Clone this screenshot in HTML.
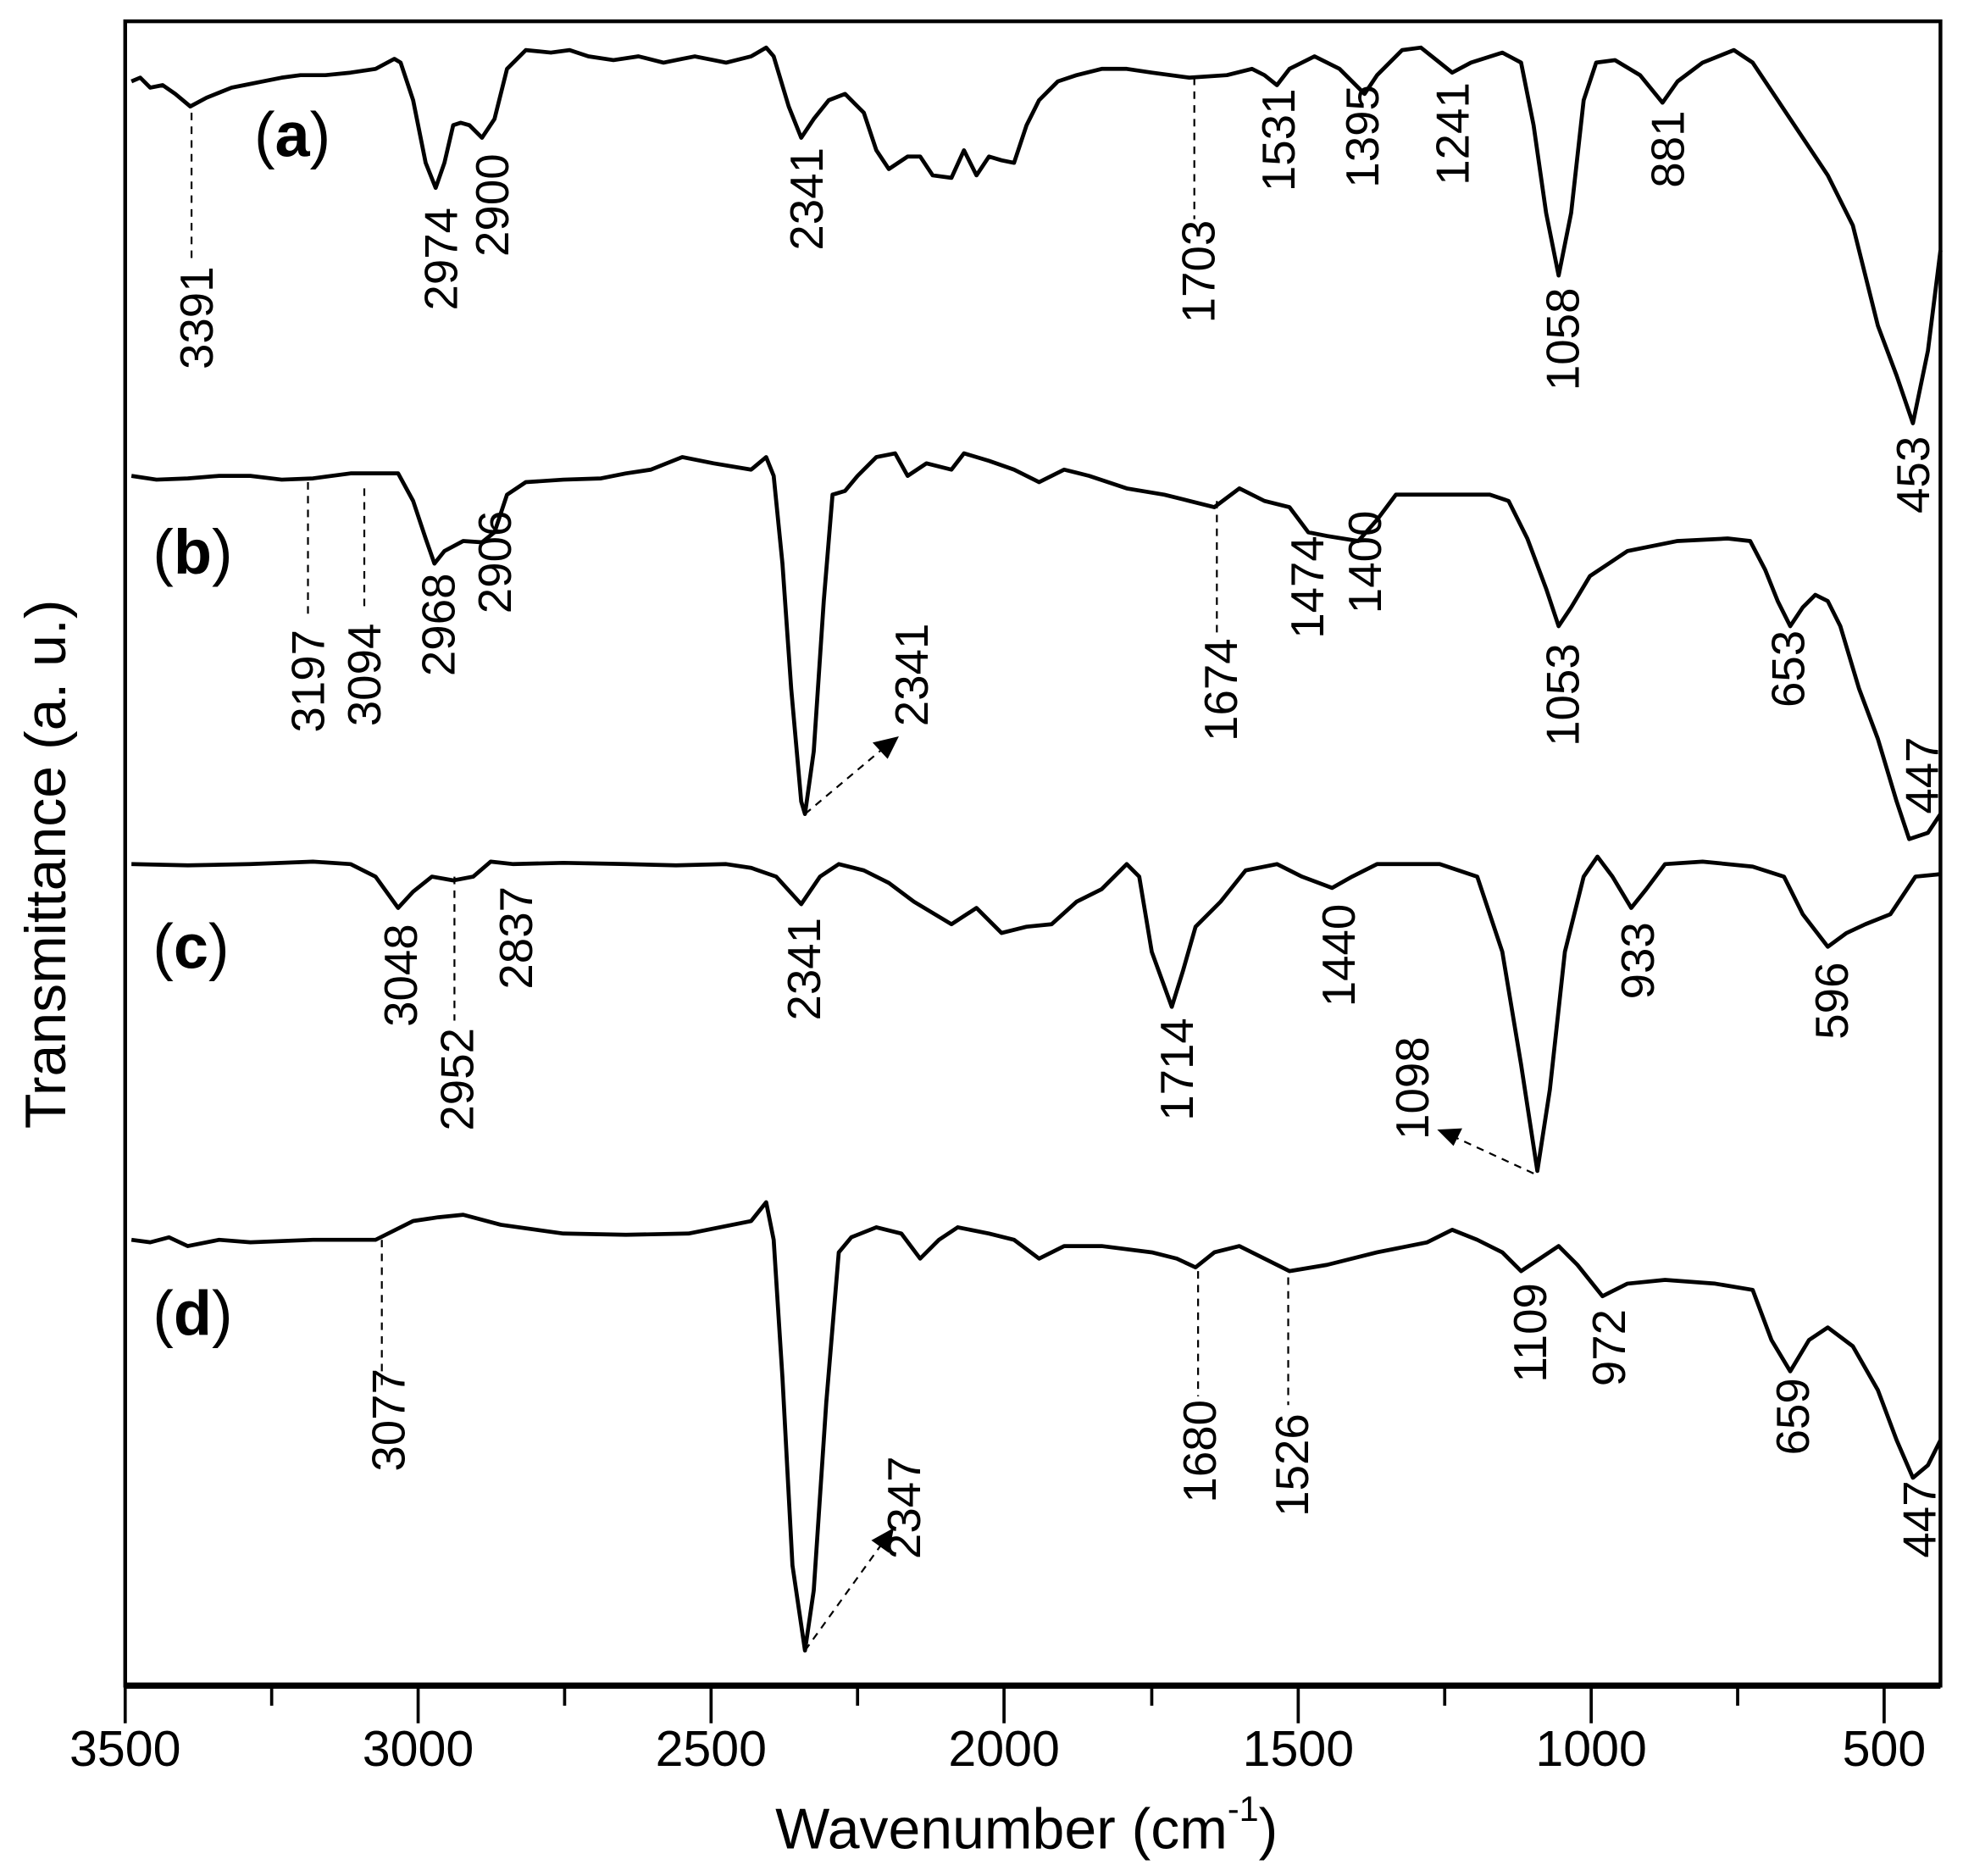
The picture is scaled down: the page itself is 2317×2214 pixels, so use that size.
<!DOCTYPE html>
<html><head><meta charset="utf-8"><style>html,body{margin:0;padding:0;background:#fff}svg{display:block}</style></head>
<body>
<svg width="2317" height="2214" viewBox="0 0 1568 1498" preserveAspectRatio="none" xmlns="http://www.w3.org/2000/svg" font-family="Liberation Sans, sans-serif">
<rect width="1568" height="1498" fill="#fff"/>
<g fill="none" stroke="#000" stroke-width="3.2" stroke-linejoin="round">
<polyline points="105,65 112,62 120,70 130,68 140,75 152,85 165,78 175,74 185,70 195,68 210,65 225,62 240,60 260,60 280,58 300,55 315,47 320,50 330,80 340,130 348,150 355,130 362,100 368,98 375,100 385,110 395,95 405,55 420,40 440,42 455,40 470,45 490,48 510,45 530,50 545,47 555,45 570,48 580,50 600,45 612,38 618,45 630,85 640,110 650,95 662,80 675,75 690,90 700,120 710,135 725,125 735,125 745,140 760,142 770,120 780,140 790,125 800,128 810,130 820,100 830,80 845,65 860,60 880,55 900,55 920,58 950,62 980,60 1000,55 1010,60 1020,68 1030,55 1050,45 1070,55 1090,75 1100,60 1120,40 1135,38 1150,50 1160,58 1175,50 1200,42 1215,50 1225,100 1235,170 1245,220 1255,170 1265,80 1275,50 1290,48 1310,60 1328,82 1340,65 1360,50 1385,40 1400,50 1420,80 1440,110 1460,140 1480,180 1500,260 1515,300 1528,338 1540,280 1550,200"/>
<polyline points="105,380 125,383 150,382 175,380 200,380 225,383 250,382 280,378 300,378 318,378 330,400 340,430 347,450 355,440 370,432 385,433 395,425 405,395 420,385 450,383 480,382 500,378 520,375 545,365 570,370 600,375 612,365 618,380 625,450 632,550 640,640 643,650 650,600 658,480 665,395 675,392 685,380 700,365 715,362 725,380 740,370 760,375 770,362 790,368 810,375 830,385 850,375 870,380 900,390 930,395 950,400 970,405 990,390 1010,400 1030,405 1045,425 1060,428 1085,432 1100,415 1115,395 1150,395 1190,395 1205,400 1220,430 1235,470 1245,500 1255,485 1270,460 1300,440 1340,432 1380,430 1398,432 1410,455 1420,480 1430,500 1440,485 1450,475 1460,480 1470,500 1485,550 1500,590 1515,640 1525,670 1540,665 1550,650"/>
<polyline points="105,690 150,691 200,690 250,688 280,690 300,700 318,725 330,712 345,700 362,703 378,700 392,688 410,690 450,689 500,690 540,691 580,690 600,693 620,700 640,722 655,700 670,690 690,695 710,705 730,720 760,738 780,725 800,745 820,740 840,738 860,720 880,710 900,690 910,700 920,760 936,804 945,775 955,740 975,720 995,695 1020,690 1040,700 1064,709 1080,700 1100,690 1150,690 1180,700 1200,760 1215,850 1228,935 1238,870 1250,760 1265,700 1276,684 1288,700 1303,725 1315,710 1330,690 1360,688 1400,692 1425,700 1440,730 1460,756 1475,745 1490,738 1510,730 1530,700 1550,698"/>
<polyline points="105,990 120,992 135,988 150,995 175,990 200,992 250,990 300,990 330,975 350,972 370,970 400,978 450,985 500,986 550,985 600,975 612,960 618,990 625,1100 633,1250 643,1318 650,1270 660,1120 670,1000 680,988 700,980 720,985 735,1005 750,990 765,980 790,985 810,990 830,1005 850,995 880,995 920,1000 940,1005 955,1012 970,1000 990,995 1010,1005 1030,1015 1060,1010 1100,1000 1140,992 1160,982 1180,990 1200,1000 1215,1015 1230,1005 1245,995 1260,1010 1280,1035 1300,1025 1330,1022 1370,1025 1400,1030 1415,1070 1430,1095 1445,1070 1460,1060 1480,1075 1500,1110 1515,1150 1528,1180 1540,1170 1550,1150"/>
</g>
<g stroke="#000" stroke-width="1.5" stroke-dasharray="6,5" fill="none">
<line x1="153" y1="90" x2="153" y2="210"/><line x1="954" y1="62" x2="954" y2="175"/>
<line x1="246" y1="385" x2="246" y2="490"/><line x1="291" y1="390" x2="291" y2="485"/><line x1="972" y1="400" x2="972" y2="505"/>
<line x1="363" y1="700" x2="363" y2="815"/>
<line x1="305" y1="990" x2="305" y2="1110"/><line x1="957" y1="1015" x2="957" y2="1115"/><line x1="1029" y1="1020" x2="1029" y2="1122"/>
<line x1="643" y1="650" x2="705" y2="598"/><line x1="643" y1="1318" x2="705" y2="1232"/><line x1="1225" y1="937" x2="1162" y2="908"/>
</g>
<g fill="#000">
<polygon points="718,588 697,593 709,606"/><polygon points="714,1220 696,1230 710,1240"/><polygon points="1148,902 1168,901 1161,915"/>
</g>
<g font-size="37" fill="#000">
<text transform="translate(170,295) rotate(-90)">3391</text>
<text transform="translate(365,248) rotate(-90)">2974</text>
<text transform="translate(406,205) rotate(-90)">2900</text>
<text transform="translate(657,200) rotate(-90)">2341</text>
<text transform="translate(970,258) rotate(-90)">1703</text>
<text transform="translate(1034,153) rotate(-90)">1531</text>
<text transform="translate(1101,150) rotate(-90)">1395</text>
<text transform="translate(1173,148) rotate(-90)">1241</text>
<text transform="translate(1261,312) rotate(-90)">1058</text>
<text transform="translate(1345,150) rotate(-90)">881</text>
<text transform="translate(1541,410) rotate(-90)">453</text>
<text transform="translate(259,585) rotate(-90)">3197</text>
<text transform="translate(304,580) rotate(-90)">3094</text>
<text transform="translate(363,540) rotate(-90)">2968</text>
<text transform="translate(408,490) rotate(-90)">2906</text>
<text transform="translate(741,580) rotate(-90)">2341</text>
<text transform="translate(988,592) rotate(-90)">1674</text>
<text transform="translate(1057,510) rotate(-90)">1474</text>
<text transform="translate(1103,490) rotate(-90)">1400</text>
<text transform="translate(1261,596) rotate(-90)">1053</text>
<text transform="translate(1441,565) rotate(-90)">653</text>
<text transform="translate(1548,650) rotate(-90)">447</text>
<text transform="translate(333,820) rotate(-90)">3048</text>
<text transform="translate(378,903) rotate(-90)">2952</text>
<text transform="translate(425,790) rotate(-90)">2837</text>
<text transform="translate(655,815) rotate(-90)">2341</text>
<text transform="translate(953,895) rotate(-90)">1714</text>
<text transform="translate(1082,804) rotate(-90)">1440</text>
<text transform="translate(1141,910) rotate(-90)">1098</text>
<text transform="translate(1321,798) rotate(-90)">933</text>
<text transform="translate(1476,830) rotate(-90)">596</text>
<text transform="translate(323,1175) rotate(-90)">3077</text>
<text transform="translate(735,1245) rotate(-90)">2347</text>
<text transform="translate(971,1200) rotate(-90)">1680</text>
<text transform="translate(1045,1211) rotate(-90)">1526</text>
<text transform="translate(1235,1104) rotate(-90)">1109</text>
<text transform="translate(1298,1107) rotate(-90)">972</text>
<text transform="translate(1445,1162) rotate(-90)">659</text>
<text transform="translate(1546,1244) rotate(-90)">447</text>
</g>
<g font-size="50" fill="#000">
<text x="203" y="125">(<tspan font-weight="bold">a</tspan>)</text>
<text x="122" y="458">(<tspan font-weight="bold">b</tspan>)</text>
<text x="122" y="773">(<tspan font-weight="bold">c</tspan>)</text>
<text x="122" y="1066">(<tspan font-weight="bold">d</tspan>)</text>
</g>
<g stroke="#000" fill="none">
<rect x="100" y="17" width="1450" height="1329" stroke-width="3"/>
<line x1="100" y1="1346" x2="1550" y2="1346" stroke-width="5"/>
<path d="M100,1346v30 M334,1346v30 M568,1346v30 M802,1346v30 M1037,1346v30 M1271,1346v30 M1505,1346v30 M217,1346v16 M451,1346v16 M685,1346v16 M920,1346v16 M1154,1346v16 M1388,1346v16" stroke-width="2.5"/>
</g>
<g font-size="40" fill="#000" text-anchor="middle">
<text x="100" y="1410">3500</text><text x="334" y="1410">3000</text><text x="568" y="1410">2500</text><text x="802" y="1410">2000</text><text x="1037" y="1410">1500</text><text x="1271" y="1410">1000</text><text x="1505" y="1410">500</text>
</g>
<text x="820" y="1476" font-size="46" text-anchor="middle">Wavenumber (cm<tspan font-size="28" dy="-22">-1</tspan><tspan dy="22">)</tspan></text>
<text transform="translate(52,690) rotate(-90)" font-size="46" text-anchor="middle">Transmittance (a. u.)</text>
</svg>
</body></html>
